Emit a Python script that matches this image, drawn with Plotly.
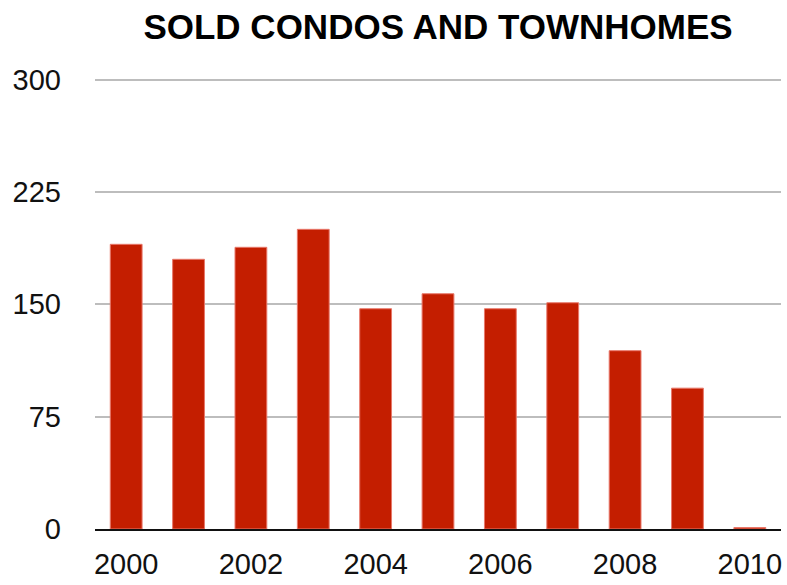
import plotly.graph_objects as go

# Yearly count of sold condos and townhomes
years = [2000, 2001, 2002, 2003, 2004, 2005, 2006, 2007, 2008, 2009, 2010]
sold = [190, 180, 188, 200, 147, 157, 147, 151, 119, 94, 1]

y_ticks = [0, 75, 150, 225, 300]
x_ticks = [2000, 2002, 2004, 2006, 2008, 2010]

FONT = "Liberation Sans, Arial, Helvetica, sans-serif"

fig = go.Figure(
    go.Bar(
        x=years,
        y=sold,
        marker=dict(color="#c41e00", line=dict(color="#e8786a", width=1)),
    )
)

fig.update_layout(
    width=787,
    height=585,
    margin=dict(l=95, r=5, t=78, b=52),
    paper_bgcolor="white",
    plot_bgcolor="white",
    bargap=0.49,
    showlegend=False,
    title=dict(
        text="<b>SOLD CONDOS AND TOWNHOMES</b>",
        x=0.5,
        xref="paper",
        xanchor="center",
        y=1 - 27 / 585,
        yanchor="middle",
        font=dict(family=FONT, size=35, color="black"),
    ),
    font=dict(family=FONT, size=29, color="#111"),
)

fig.update_xaxes(
    range=[1999.5, 2010.5],
    tickvals=x_ticks,
    ticktext=[str(v) for v in x_ticks],
    showgrid=False,
    showline=True,
    linecolor="#111",
    linewidth=2,
    ticks="",
    ticklabelstandoff=8,
    zeroline=False,
)

fig.update_yaxes(
    range=[0, 301],
    tickvals=y_ticks,
    showgrid=True,
    gridcolor="#bdbdbd",
    gridwidth=2,
    zeroline=False,
    showline=False,
    ticks="",
    ticklabelstandoff=33,
)

fig.write_html("out.html")
